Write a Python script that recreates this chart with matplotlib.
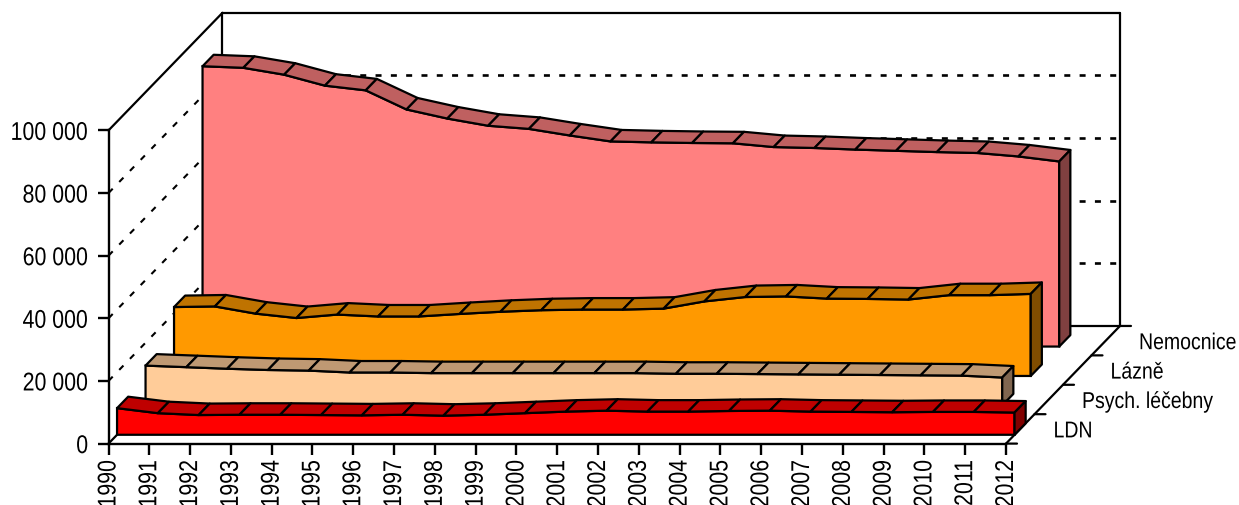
import matplotlib
matplotlib.use("Agg")
import matplotlib.pyplot as plt
from matplotlib.patches import Polygon
from matplotlib.patheffects import AbstractPathEffect
from matplotlib.transforms import Affine2D

years = list(range(1990, 2013))
series_names = ["LDN", "Psych. léčebny", "Lázně", "Nemocnice"]
ldn = [8500, 6900, 6300, 6400, 6400, 6300, 6200, 6400, 6100, 6400, 6900, 7400,
       7700, 7400, 7400, 7600, 7700, 7400, 7300, 7200, 7300, 7300, 7100]
psych = [12700, 12200, 11700, 11300, 11100, 10500, 10500, 10300, 10300, 10300, 10300,
         10300, 10300, 10100, 10100, 10000, 9900, 9800, 9700, 9600, 9500, 8900]
lazne = [22000, 22200, 19900, 18500, 19600, 19000, 19000, 19800, 20500, 21000, 21200,
         21200, 21500, 23800, 25200, 25400, 24700, 24600, 24400, 25800, 25800, 26200]
nemocnice = [89500, 89000, 86800, 83300, 81800, 75700, 72800, 70500, 69500, 67400, 65500,
             65200, 65000, 64900, 63700, 63400, 62900, 62500, 62100, 61800, 60700, 59100]
series_values = [ldn, psych, lazne, nemocnice]
front_colors = ["#FF0000", "#FFCC99", "#FF9900", "#FF8080"]
top_colors = ["#BF0000", "#BF9973", "#BF7300", "#BF6060"]
side_colors = ["#800000", "#806650", "#804D00", "#804040"]
y_ticks = [0, 20000, 40000, 60000, 80000, 100000]

plt.rcParams["font.family"] = ["Liberation Sans"]
W, H = 1239, 506
LW = 1.6


class Squeeze(AbstractPathEffect):
    """Horizontally condense a text string, keeping one end of it in place."""

    def __init__(self, sx, anchor):
        super().__init__()
        self.sx, self.anchor = sx, anchor

    def draw_path(self, renderer, gc, tpath, affine, rgbFace=None):
        ext = tpath.get_extents()
        x0 = ext.x1 if self.anchor == "right" else ext.x0
        t = Affine2D().translate(-x0, 0).scale(self.sx, 1).translate(x0, 0) + affine
        renderer.draw_path(gc, tpath, t, rgbFace)


fig = plt.figure(figsize=(W / 100, H / 100), dpi=100)
ax = fig.add_axes([108.5 / W, (H - 444.6) / H, 897.5 / W, 313.2 / H])
ax.patch.set_visible(False)
ax.set_xlim(0, len(years) - 1)
ax.set_ylim(0, 100000)

# depth of one series slot, expressed in data units of the front plane
SLOT_X, SLOT_Y = 0.6985, 9390
GAP, THICK = 0.30, 0.39
N_SLOTS = len(series_names)


def proj(i, v, d):
    return i + d * SLOT_X, v + d * SLOT_Y


def seg(p, q, **kw):
    style = dict(color="black", lw=LW, clip_on=False, solid_capstyle="round", zorder=1)
    style.update(kw)
    ax.plot([p[0], q[0]], [p[1], q[1]], **style)


nx = len(years) - 1
wall_dash = dict(linestyle=(0, (2.9, 4.5)), dash_capstyle="butt", lw=1.5)
back_dash = dict(linestyle=(0, (2.27, 3.53)), dash_capstyle="butt", lw=1.9)
for v in y_ticks[1:-1]:
    seg(proj(0, v, 0), proj(0, v, N_SLOTS), **wall_dash)
    seg(proj(0, v, N_SLOTS), proj(nx, v, N_SLOTS), **back_dash)
top = y_ticks[-1]
seg(proj(0, top, 0), proj(0, top, N_SLOTS))
seg(proj(0, top, N_SLOTS), proj(nx, top, N_SLOTS))
seg(proj(0, 0, N_SLOTS), proj(0, top, N_SLOTS))
seg(proj(nx, 0, N_SLOTS), proj(nx, top, N_SLOTS))
seg(proj(0, 0, 0), proj(0, 0, N_SLOTS))
seg(proj(0, 0, N_SLOTS), proj(nx, 0, N_SLOTS))
seg(proj(nx, 0, 0), proj(nx, 0, N_SLOTS))

# depth axis ticks and labels
for k in range(N_SLOTS + 1):
    p = proj(nx, 0, k)
    ax.annotate("", xy=p, xytext=(11, 0), textcoords="offset pixels", annotation_clip=False,
                arrowprops=dict(arrowstyle="-", lw=LW, color="black", shrinkA=0, shrinkB=0))
for k, name in enumerate(series_names):
    t = ax.annotate(name, xy=proj(nx, 0, k + 0.5), xytext=(33, -2), textcoords="offset pixels",
                    ha="left", va="center", fontsize=16.5, color="black", annotation_clip=False)
    t.set_path_effects([Squeeze(0.85, "left")])

# series from back to front
for k in reversed(range(N_SLOTS)):
    vals = series_values[k]
    d0, d1 = k + GAP, k + GAP + THICK
    z = 10 + (N_SLOTS - k) * 2
    last = len(vals) - 1
    front = [proj(0, 0, d0)] + [proj(i, v, d0) for i, v in enumerate(vals)] + [proj(last, 0, d0)]
    ax.add_patch(Polygon(front, closed=True, fc=front_colors[k], ec="black", lw=LW,
                         joinstyle="miter", clip_on=False, zorder=z))
    for i in range(last):
        quad = [proj(i, vals[i], d0), proj(i + 1, vals[i + 1], d0),
                proj(i + 1, vals[i + 1], d1), proj(i, vals[i], d1)]
        ax.add_patch(Polygon(quad, closed=True, fc=top_colors[k], ec="black", lw=LW,
                             joinstyle="round", clip_on=False, zorder=z))
    side = [proj(last, vals[last], d0), proj(last, vals[last], d1),
            proj(last, 0, d1), proj(last, 0, d0)]
    ax.add_patch(Polygon(side, closed=True, fc=side_colors[k], ec="black", lw=LW,
                         joinstyle="round", clip_on=False, zorder=z))

for s in ("top", "right"):
    ax.spines[s].set_visible(False)
for s in ("left", "bottom"):
    ax.spines[s].set_linewidth(1.7)

ax.set_yticks(y_ticks)
ax.set_yticklabels([f"{v:,}".replace(",", " ") for v in y_ticks], fontsize=18.5)
ax.set_xticks(range(len(years)))
ax.set_xticklabels([str(y) for y in years], rotation=90, fontsize=18.5)
ax.tick_params(axis="both", length=8, width=1.7, color="black")
ax.tick_params(axis="y", pad=6.5)
ax.tick_params(axis="x", pad=3.5)
for lab in ax.get_yticklabels() + ax.get_xticklabels():
    lab.set_path_effects([Squeeze(0.83, "right")])

fig.savefig("out.png", dpi=100)
